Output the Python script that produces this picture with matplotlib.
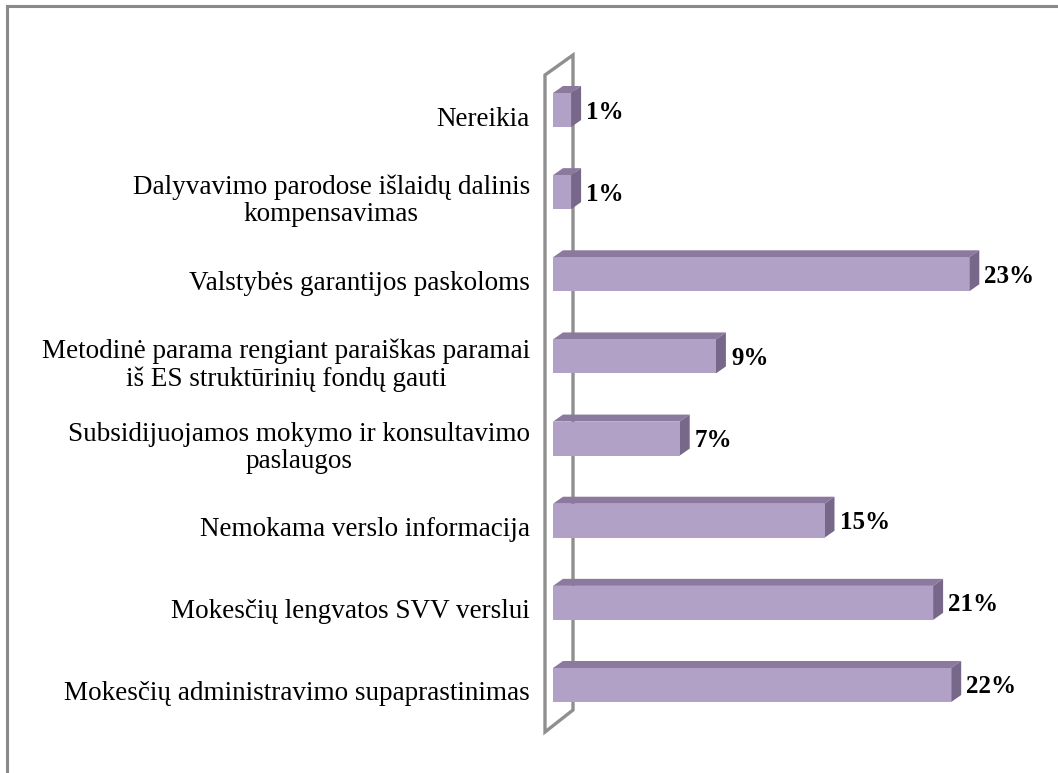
import numpy as np
import matplotlib.pyplot as plt
from matplotlib.patches import Polygon, Rectangle
from matplotlib.lines import Line2D

categories = [
    'Nereikia',
    'Dalyvavimo parodose išlaidų dalinis\nkompensavimas',
    'Valstybės garantijos paskoloms',
    'Metodinė parama rengiant paraiškas paramai\niš ES struktūrinių fondų gauti',
    'Subsidijuojamos mokymo ir konsultavimo\npaslaugos',
    'Nemokama verslo informacija',
    'Mokesčių lengvatos SVV verslui',
    'Mokesčių administravimo supaprastinimas',
]
values = [1, 1, 23, 9, 7, 15, 21, 22]

W, H = 1058, 773
fig = plt.figure(figsize=(W / 100, H / 100), dpi=100)
plt.rcParams['font.family'] = ['Liberation Serif', 'DejaVu Serif']

# pixel geometry of the plotting area
x0_px = 553.0          # value 0
px_per_unit = 18.1     # pixels per percent
xmax = 25
y_top_px = 110 - 0.9 * 82.14
y_bot_px = 685 + 0.9 * 82.14
ax = fig.add_axes([x0_px / W, 1 - y_bot_px / H, xmax * px_per_unit / W, (y_bot_px - y_top_px) / H])
ax.set_xlim(0, xmax)
ax.set_ylim(7.9, -0.9)
ax.axis('off')

py = (y_bot_px - y_top_px) / 8.8   # pixels per category step

def dx(p):
    return p / px_per_unit

def dy(p):
    return p / py

# back wall drawn as a thin tilted frame
wall = Polygon([(dx(-8), dy(-35)), (dx(20), dy(-55)), (dx(20), dy(600)), (dx(-8), dy(622))],
               closed=True, fill=False, edgecolor='#8f8f8f', lw=2.4, clip_on=False, zorder=1)
ax.add_patch(wall)

front_c = '#b2a1c7'
top_c = '#8b7a9e'
side_c = '#776889'
bh = dy(34)
ddx, ddy = dx(10), dy(-7)

for i, (lab, v) in enumerate(zip(categories, values)):
    top = i - bh / 2
    bot = i + bh / 2
    ax.add_patch(Polygon([(0, top), (v, top), (v + ddx, top + ddy), (ddx, top + ddy)],
                         closed=True, fc=top_c, ec='none', clip_on=False, zorder=3))
    ax.add_patch(Polygon([(v, top), (v + ddx, top + ddy), (v + ddx, bot + ddy), (v, bot)],
                         closed=True, fc=side_c, ec='none', clip_on=False, zorder=3))
    ax.add_patch(Rectangle((0, top), v, bh, fc=front_c, ec='none', clip_on=False, zorder=4))
    ax.text(v + ddx + dx(5), i + dy(2), f'{v}%', ha='left', va='center',
            fontsize=18, fontweight='bold', clip_on=False, zorder=5)
    ax.text(dx(-23), i + dy(9), lab, ha='right', va='center', fontsize=19.5,
            multialignment='center', linespacing=1.1, clip_on=False, zorder=5)

# outer frame on the top and left edges
fig.add_artist(Line2D([7 / W, 1], [1 - 6 / H, 1 - 6 / H], color='#8a8a8a', lw=2.2))
fig.add_artist(Line2D([7 / W, 7 / W], [0, 1 - 6 / H], color='#8a8a8a', lw=2.2))

fig.savefig('out.png', dpi=100)
